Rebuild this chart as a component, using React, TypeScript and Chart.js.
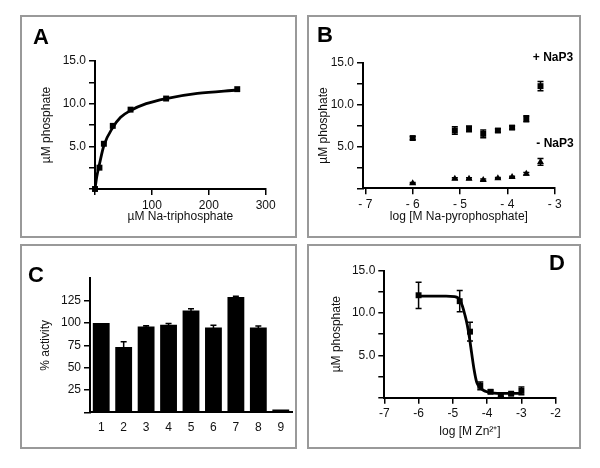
import React, { useEffect, useRef } from "react";
import { Chart, registerables } from "chart.js";

Chart.register(...registerables);
Chart.defaults.font.family = "'Liberation Sans', Arial, sans-serif";
Chart.defaults.color = "#111";

// ---------- Panel A data ----------
const aSubstrate = [0, 7.8, 15.6, 31.25, 62.5, 125, 250];
const aPhosphate = [0, 2.5, 5.3, 7.4, 9.3, 10.6, 11.7];
const aFitX = [0, 3, 7.8, 15.6, 31.25, 45, 62.5, 90, 125, 180, 250];
const aFitY = [0, 1.4, 2.9, 5.1, 7.2, 8.4, 9.2, 10.0, 10.6, 11.2, 11.6];
const aXTicks = [0, 100, 200, 300];
const phosphateTicks = [0, 2.5, 5, 7.5, 10, 12.5, 15];

// ---------- Panel B data ----------
const bLogConc = [-6, -5.11, -4.81, -4.51, -4.2, -3.9, -3.6, -3.3];
const bWithNaP3 = [6.0, 6.9, 7.1, 6.5, 6.9, 7.25, 8.3, 12.2];
const bWithNaP3Err = [0.2, 0.45, 0.35, 0.45, 0.2, 0.2, 0.35, 0.55];
const bWithoutNaP3 = [0.6, 1.15, 1.15, 1.0, 1.2, 1.35, 1.75, 3.15];
const bWithoutNaP3Err = [0.1, 0.1, 0.1, 0.1, 0.1, 0.1, 0.15, 0.4];
const bXTicks = [-7, -6, -5, -4, -3];

// ---------- Panel C data ----------
const cCategories = ["1", "2", "3", "4", "5", "6", "7", "8", "9"];
const cActivity = [100, 73, 96, 98, 114, 95, 129, 95, 3];
const cActivityErr = [0, 6, 1, 1.5, 2, 2.5, 1, 1.5, 0];
const cYTicks = [0, 25, 50, 75, 100, 125];

// ---------- Panel D data ----------
const dLogZn = [-6, -4.8, -4.5, -4.2, -3.9, -3.6, -3.3, -3.0];
const dPhosphate = [12.1, 11.4, 7.8, 1.4, 0.7, 0.3, 0.47, 0.8];
const dPhosphateErr = [1.55, 1.25, 1.1, 0.45, 0.2, 0.15, 0.15, 0.45];
const dFitX = [-6, -5.2, -4.95, -4.85, -4.79, -4.72, -4.65, -4.58, -4.52, -4.45, -4.38, -4.31, -4.25, -4.21, -4.1, -4.01, -3.8, -3.63, -3.3, -3.0];
const dFitY = [12.0, 12.0, 11.95, 11.8, 11.5, 10.8, 9.8, 8.6, 7.2, 5.2, 3.3, 1.9, 1.4, 1.2, 0.85, 0.7, 0.55, 0.5, 0.5, 0.5];
const dXTicks = [-7, -6, -5, -4, -3, -2];

const toXY = (xs: number[], ys: number[]) => xs.map((x, i) => ({ x, y: ys[i] }));

const errorBarPlugin = {
  id: "errorBars",
  afterDatasetsDraw(chart: any) {
    const ctx = chart.ctx;
    chart.data.datasets.forEach((ds: any, i: number) => {
      const errs = ds.errorBars;
      if (!errs) return;
      const meta = chart.getDatasetMeta(i);
      const yScale = chart.scales[meta.yAxisID];
      meta.data.forEach((el: any, j: number) => {
        const e = errs[j];
        if (!e) return;
        const raw = ds.data[j];
        const v = typeof raw === "number" ? raw : raw.y;
        const x = el.x;
        const yt = yScale.getPixelForValue(v + e);
        const yb = yScale.getPixelForValue(v - e);
        ctx.save();
        ctx.strokeStyle = "#000";
        ctx.lineWidth = 1.5;
        ctx.beginPath();
        ctx.moveTo(x, yt);
        ctx.lineTo(x, yb);
        ctx.moveTo(x - 3, yt);
        ctx.lineTo(x + 3, yt);
        ctx.moveTo(x - 3, yb);
        ctx.lineTo(x + 3, yb);
        ctx.stroke();
        ctx.restore();
      });
    });
  },
};

const tickFont = { size: 12 };
const titleFont = { size: 12, lineHeight: 1.2 };
const axisBorder = { display: true, color: "#000", width: 2 };
const tickGrid = { display: true, drawOnChartArea: false, drawTicks: true, tickLength: 6, color: "#000", lineWidth: 1.5 };

function yPhosphate(width: number) {
  return {
    type: "linear",
    min: 0,
    max: 15,
    afterBuildTicks: (s: any) => { s.ticks = phosphateTicks.map((value) => ({ value })); },
    afterFit: (s: any) => { s.width = width; },
    ticks: {
      font: tickFont, color: "#111", autoSkip: false, padding: 3,
      callback: (v: number) => (v !== 0 && v % 5 === 0 ? v.toFixed(1) : ""),
    },
    border: axisBorder,
    grid: tickGrid,
    title: { display: true, text: "µM phosphate", font: titleFont, color: "#111", padding: 0 },
  };
}

function xLinear(min: number, max: number, tickVals: number[], height: number, title: string, fmt: (v: number) => string) {
  return {
    type: "linear",
    min,
    max,
    afterBuildTicks: (s: any) => { s.ticks = tickVals.map((value) => ({ value })); },
    afterFit: (s: any) => { s.height = height; },
    ticks: { font: tickFont, color: "#111", autoSkip: false, maxRotation: 0, padding: 3, callback: fmt },
    border: axisBorder,
    grid: tickGrid,
    title: { display: true, text: title, font: titleFont, color: "#111", padding: 0 },
  };
}

const basePlugins = { legend: { display: false }, tooltip: { enabled: false } };

function pad(left: number, top: number, right: number, bottom: number) {
  return { autoPadding: false, padding: { left, top, right, bottom } };
}

const configA: any = {
  type: "scatter",
  data: {
    datasets: [
      { data: toXY(aFitX, aFitY), showLine: true, pointRadius: 0, borderColor: "#000", borderWidth: 2.8, cubicInterpolationMode: "monotone", clip: false },
      { data: toXY(aSubstrate, aPhosphate), pointStyle: "rect", pointRadius: 4.2, backgroundColor: "#000", borderColor: "#000", borderWidth: 0, clip: false },
    ],
  },
  options: {
    animation: false, responsive: false, events: [],
    layout: pad(39.5, 61, 334.3, 243.8),
    plugins: basePlugins,
    scales: {
      x: xLinear(0, 300, aXTicks, 35.2, "µM Na-triphosphate", (v: number) => (v === 0 ? "" : String(v))),
      y: yPhosphate(55.5),
    },
  },
  plugins: [errorBarPlugin],
};

const configB: any = {
  type: "scatter",
  data: {
    datasets: [
      { data: toXY(bLogConc, bWithNaP3), errorBars: bWithNaP3Err, pointStyle: "rect", pointRadius: 4.2, backgroundColor: "#000", borderColor: "#000", borderWidth: 0, clip: false },
      { data: toXY(bLogConc, bWithoutNaP3), errorBars: bWithoutNaP3Err, pointStyle: "triangle", pointRadius: 4, backgroundColor: "#000", borderColor: "#000", borderWidth: 0, clip: false },
    ],
  },
  options: {
    animation: false, responsive: false, events: [],
    layout: pad(316.8, 62.7, 45.3, 244.5),
    plugins: basePlugins,
    scales: {
      x: xLinear(-7.05, -3, bXTicks, 35.2, "log [M Na-pyrophosphate]", (v: number) => "- " + Math.abs(v)),
      y: yPhosphate(46.2),
    },
  },
  plugins: [errorBarPlugin],
};

const configC: any = {
  type: "bar",
  data: {
    labels: cCategories,
    datasets: [
      { data: cActivity, errorBars: cActivityErr, backgroundColor: "#000", borderWidth: 0, barPercentage: 0.75, categoryPercentage: 1 },
    ],
  },
  options: {
    animation: false, responsive: false, events: [],
    layout: pad(38.8, 278.3, 308, 35.7),
    plugins: basePlugins,
    scales: {
      x: {
        type: "category",
        afterFit: (s: any) => { s.height = 20; },
        ticks: { font: tickFont, color: "#111", autoSkip: false, maxRotation: 0, padding: 8 },
        border: axisBorder,
        grid: { display: false, drawTicks: false },
      },
      y: {
        type: "linear",
        min: 0,
        max: 150,
        afterBuildTicks: (s: any) => { s.ticks = cYTicks.map((value) => ({ value })); },
        afterFit: (s: any) => { s.width = 51.2; },
        ticks: { font: tickFont, color: "#111", autoSkip: false, padding: 3, callback: (v: number) => (v === 0 ? "" : String(v)) },
        border: axisBorder,
        grid: tickGrid,
        title: { display: true, text: "% activity", font: titleFont, color: "#111", padding: 0 },
      },
    },
  },
  plugins: [errorBarPlugin],
};

const configD: any = {
  type: "scatter",
  data: {
    datasets: [
      { data: toXY(dFitX, dFitY), showLine: true, pointRadius: 0, borderColor: "#000", borderWidth: 2.8, cubicInterpolationMode: "monotone", clip: false },
      { data: toXY(dLogZn, dPhosphate), errorBars: dPhosphateErr, pointStyle: "rect", pointRadius: 4.2, backgroundColor: "#000", borderColor: "#000", borderWidth: 0, clip: false },
    ],
  },
  options: {
    animation: false, responsive: false, events: [],
    layout: pad(329.5, 270.7, 44.3, 29.5),
    plugins: basePlugins,
    scales: {
      x: xLinear(-7, -2, dXTicks, 40.8, "log [M Zn²⁺]", (v: number) => String(v)),
      y: yPhosphate(54.8),
    },
  },
  plugins: [errorBarPlugin],
};

function ChartCanvas({ config }: { config: any }) {
  const ref = useRef<HTMLCanvasElement | null>(null);
  useEffect(() => {
    const chart = new Chart(ref.current as HTMLCanvasElement, config);
    return () => chart.destroy();
  }, [config]);
  return (
    <canvas
      ref={ref}
      width={600}
      height={468}
      style={{ position: "absolute", left: 0, top: 0, width: 600, height: 468 }}
    />
  );
}

const frameStyle = (left: number, top: number, right: number, bottom: number): React.CSSProperties => ({
  position: "absolute",
  left,
  top,
  width: right - left,
  height: bottom - top,
  boxSizing: "border-box",
  border: "2px solid #999",
});

const letterStyle = (left: number, top: number): React.CSSProperties => ({
  position: "absolute",
  left,
  top,
  font: "bold 22px 'Liberation Sans', Arial, sans-serif",
  lineHeight: "22px",
  color: "#000",
});

const noteStyle = (left: number, top: number): React.CSSProperties => ({
  position: "absolute",
  left,
  top,
  width: 60,
  textAlign: "center",
  font: "bold 12px 'Liberation Sans', Arial, sans-serif",
  lineHeight: "14px",
  color: "#000",
});

export default function App() {
  return (
    <div style={{ position: "absolute", left: 0, top: 0, width: 600, height: 468, background: "#fff", overflow: "hidden" }}>
      <div style={frameStyle(20, 15, 297, 238)} />
      <div style={frameStyle(307, 15, 581, 238)} />
      <div style={frameStyle(20, 244, 297, 449)} />
      <div style={frameStyle(307, 244, 581, 449)} />
      <ChartCanvas config={configA} />
      <ChartCanvas config={configB} />
      <ChartCanvas config={configC} />
      <ChartCanvas config={configD} />
      <div style={letterStyle(33, 26)}>A</div>
      <div style={letterStyle(317, 24)}>B</div>
      <div style={letterStyle(28, 264)}>C</div>
      <div style={letterStyle(549, 252)}>D</div>
      <div style={noteStyle(523, 50)}>+ NaP3</div>
      <div style={noteStyle(525, 136)}>- NaP3</div>
    </div>
  );
}
